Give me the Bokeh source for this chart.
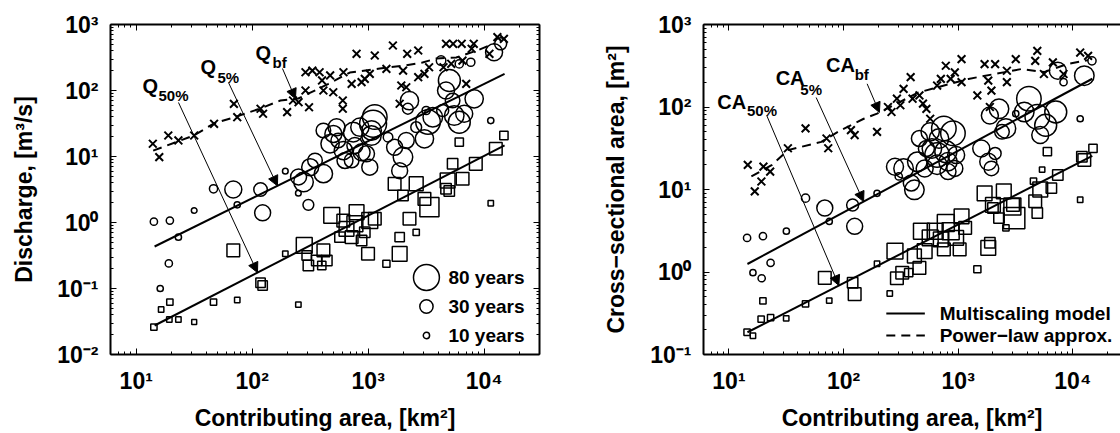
import numpy as np
from bokeh.plotting import figure
from bokeh.layouts import row
from bokeh.models import Range1d, LogAxis, FixedTicker, CustomJSTickFormatter, Arrow, NormalHead
from bokeh.core.properties import value
from bokeh.embed import file_html
from bokeh.resources import INLINE

FONT = "Liberation Sans"

# ---------------- LEFT PANEL: discharge ----------------
# Q5% (circles): contributing area [km2], discharge [m3/s], record length [years]
q5_area = [14.2, 19.5, 23.1, 31.6, 19.1, 16.1, 46.4, 68.7, 74.3, 118, 123, 193, 250, 305, 277, 316,
           251, 348, 411, 469, 411, 501, 552, 534, 611, 631, 743, 768, 720, 848, 877, 967, 1032,
           1102, 1067, 1140, 1483, 1690, 1995, 1868, 2128, 2270, 2198, 2594, 3055, 3162, 3280,
           3606, 4389, 5012, 4690, 5345, 5520, 6100, 6730, 8200, 7670, 11400, 12170, 13870,
           4250, 6100, 1070]
q5_val = [1.03, 1.07, 0.60, 1.52, 0.24, 0.10, 3.24, 3.16, 1.85, 3.16, 1.40, 6.0, 2.78, 1.85, 4.1, 6.9,
          4.9, 8.7, 5.5, 15.6, 24.8, 22, 17.5, 27.8, 12.3, 8.7, 23.4, 14.7, 8.7, 27.8, 11.6, 11, 6.9,
          31.3, 20.8, 39.6, 19.6, 13.8, 9.8, 6.1, 17.5, 70, 52.9, 27.8, 18.5, 49.8, 33.4,
          39.4, 49.8, 142, 100, 70.5, 41.8, 33.1, 44.4, 74.8, 268, 35, 380, 509,
          284, 253, 24.8]
q5_years = [10, 10, 8, 7, 10, 8, 12, 35, 8, 25, 32, 7, 7, 18, 43, 35,
            32, 28, 39, 39, 28, 35, 28, 35, 39, 32, 43, 32, 28, 39, 35, 32, 32,
            69, 43, 60, 15, 32, 43, 32, 32, 39, 18, 18, 39, 12, 60,
            43, 21, 51, 35, 28, 43, 51, 35, 39, 12, 8, 35, 21,
            15, 12, 43]

# Q50% (squares)
q50_area = [14.2, 19.5, 16.4, 19.3, 23.1, 31.6, 46.4, 74.3, 68.7, 118, 123, 193, 250, 281, 305, 295,
            360, 411, 440, 398, 485, 610, 571, 768, 794, 720, 877, 1032, 1140, 997, 935, 650,
            1868, 1868, 1436, 1690, 2594, 1995, 2270, 2594, 3055, 3373, 4840, 4690, 5000, 6515,
            11400, 5345, 6100, 8470, 12600, 14800]
q50_val = [0.026, 0.062, 0.048, 0.034, 0.034, 0.031, 0.062, 0.067, 0.377, 0.122, 0.111, 0.336, 0.057,
           0.45, 0.223, 0.316, 0.265, 0.377, 0.265, 0.223, 1.28, 1.07, 0.60, 0.955, 1.43, 0.60, 0.533,
           1.07, 1.14, 0.336, 0.71, 0.80, 0.60, 0.336, 0.237, 3.86, 3.86, 2.57, 1.14, 0.71, 2.28,
           1.71, 4.33, 3.24, 3.0, 4.6, 1.96, 7.75, 16.5, 7.75, 13.1, 20.8]
q50_years = [10, 10, 8, 8, 8, 7, 10, 8, 28, 18, 18, 8, 8, 39, 21, 18,
             21, 28, 21, 15, 39, 28, 21, 39, 35, 28, 21, 39, 28, 28, 21, 35,
             18, 35, 12, 28, 32, 21, 28, 10, 28, 51, 35, 21, 21, 28,
             8, 21, 15, 28, 28, 15]

# Q_bf (crosses)
qbf_area = [13.9, 15.8, 18.9, 23.1, 31.6, 46.9, 69.5, 74.3, 118, 124, 200, 251, 225, 288, 309, 288,
            330, 400, 470, 411, 500, 612, 794, 1140, 720, 877, 935, 1032, 1436, 2130, 1868, 1633,
            2170, 2700, 2700, 3055, 3350, 4690, 5400, 6400, 4460, 5200, 8130, 7800, 11100, 13000,
            14800, 6500, 7000, 604, 604, 381, 2000, 1930]
qbf_val = [15.6, 9.8, 20.8, 17.5, 20.8, 31.3, 62.8, 39.4, 52.9, 44.4, 47, 66.5, 70.5, 100, 55.8, 189,
           200, 142, 169, 100, 94, 189, 360, 339, 126, 134, 150, 179, 213, 112, 63, 481,
           360, 404, 159, 179, 225, 510, 510, 510, 225, 254, 510, 429, 360, 643,
           607, 284, 126, 70.5, 53, 189, 200, 119]

# models (solid: multiscaling, dashed: power-law approximation)
q_model_area = [14.4, 15000]
q5_model = [0.433, 179]
q50_model = [0.0275, 14.7]
qbf_pl_area = [14.0, 31.4, 46.6, 69, 118, 175, 250, 450, 695, 1259, 2060, 2940, 3870, 5740, 8690, 12160]
qbf_pl_val = [12.3, 20.8, 31.6, 39, 53.4, 70.5, 75.7, 125, 187, 215, 239, 266, 305, 316, 404, 515]

# ---------------- RIGHT PANEL: cross-sectional area ----------------
ca5_area = [14.4, 19.8, 31.7, 23.1, 16.2, 19.3, 68.6, 75, 125, 120, 46.6, 196, 303, 281, 334, 440,
            415, 390, 459, 528, 570, 680, 750, 900, 655, 780, 655, 815, 960, 935, 815, 590, 510,
            1590, 1830, 1950, 2100, 2410, 2610, 1890, 2270, 3180, 4140, 3770, 4900, 5800, 5200,
            7100, 7400, 8300, 11600, 12600, 14700]
ca5_val = [2.59, 2.72, 3.12, 1.29, 0.98, 0.84, 5.96, 4.1, 3.58, 6.5, 7.85, 9.0, 14.4, 18.9, 18, 21.7,
           9.9, 12, 41.5, 31.4, 50, 41.5, 55, 48, 26.2, 28.7, 20, 21.7, 26.2, 18, 16.5, 31.4, 18,
           31.4, 21.7, 18, 27.4, 50, 55, 79, 95, 83, 126, 87, 76, 60, 45.7,
           87, 275, 200, 72, 240, 363]
ca5_years = [10, 10, 8, 10, 8, 10, 32, 8, 32, 21, 12, 8, 10, 35, 43, 43,
             43, 32, 32, 32, 39, 43, 60, 60, 60, 51, 43, 39, 35, 32, 32, 43, 35,
             35, 35, 28, 21, 28, 43, 35, 43, 8, 60, 43, 60, 51, 35,
             51, 35, 10, 8, 43, 12]

ca50_area = [14.4, 16.2, 19.1, 23.1, 31.6, 19.8, 46.6, 75, 68.6, 120, 125, 196, 253, 281, 292, 325,
             370, 415, 459, 478, 510, 570, 630, 705, 750, 780, 860, 960, 1030, 1070, 1150, 1470,
             1830, 1890, 2010, 2270, 2610, 2970, 3080, 4900, 1700, 2500, 2010, 3010, 4540, 5400,
             6000, 5200, 4700, 6500, 7400, 11600, 12600, 15000, 12000]
ca50_val = [0.186, 0.169, 0.269, 0.28, 0.274, 0.447, 0.41, 0.45, 0.85, 0.74, 0.54, 1.26, 0.55, 1.79,
            0.84, 0.98, 0.98, 1.56, 1.12, 3.12, 1.79, 2.59, 3.12, 2.48, 1.88, 3.93, 3.12, 2.59, 1.88,
            4.73, 3.42, 1.08, 1.96, 2.26, 5.96, 4.5, 3.42, 6.24, 4.5, 5.2, 9.0, 9.5, 6.5, 6.5, 12.6,
            17.4, 28.7, 10, 7.2, 10.4, 15, 7.5, 22.8, 31.5, 25]
ca50_years = [10, 8, 10, 10, 8, 10, 10, 8, 28, 21, 28, 8, 8, 39, 28, 28,
              15, 32, 28, 39, 35, 39, 39, 35, 28, 43, 43, 35, 28, 35, 28, 12,
              35, 21, 21, 21, 10, 43, 60, 21, 35, 35, 35, 28, 10, 8,
              15, 35, 28, 21, 21, 8, 28, 15, 21]

cabf_area = [14.6, 16.8, 19.2, 20, 22.9, 32.7, 46.6, 71, 73.5, 116, 125, 196, 244, 262, 292, 334,
             385, 313, 400, 459, 493, 528, 570, 655, 706, 780, 860, 935, 1070, 1070, 1470, 1700,
             1830, 1950, 1890, 2100, 2660, 2660, 3180, 4700, 4900, 5600, 6700, 8300, 11600, 13600]
cabf_val = [19.9, 9.5, 12.5, 18.9, 16.5, 31.6, 55, 41.5, 31.6, 52.5, 45.7, 50, 100, 87, 126, 166,
            230, 105, 126, 138, 110, 95, 72, 182, 219, 316, 219, 263, 380, 200, 138, 331,
            209, 158, 100, 331, 275, 200, 380, 363, 479, 251, 347, 251, 457, 416]

ca_model_area = [14.5, 14800]
ca5_model = [1.25, 220]
ca50_model = [0.186, 25.5]
cabf_pl_area = [15.7, 23.8, 32.7, 64, 95, 150, 196, 450, 1230, 3580, 5600, 9040, 13600]
cabf_pl_val = [14.4, 19.9, 30, 37.8, 52.5, 72, 83, 150, 219, 289, 265, 333, 370]

legend_years = [80, 30, 10]
x_decades = [1, 2, 3, 4]
q_decades = [-2, -1, 0, 1, 2, 3]
ca_decades = [-1, 0, 1, 2, 3]

# ---------------- helpers ----------------
LOG_XMIN = np.log10(6.0)
DEC_X = 116.0
FRAME_TOP = 24


def msize(years):
    return 6.3 * (np.asarray(years, float) / 10.0) ** 0.68


class Panel:
    def __init__(self, frame_left, ydec_px, ytop_exp):
        self.fl = frame_left
        self.yd = ydec_px
        self.yt = ytop_exp

    def px(self, px, py):
        return (10 ** (LOG_XMIN + (px - self.fl) / DEC_X),
                10 ** (self.yt - (py - FRAME_TOP) / self.yd))


def on_line(a, xs, ys):
    return 10 ** np.interp(np.log10(a), np.log10(xs), np.log10(ys))


SUP = {"-": "\u207b", "0": "\u2070", "1": "\u00b9", "2": "\u00b2", "3": "\u00b3",
       "4": "\u2074", "5": "\u2075", "6": "\u2076", "7": "\u2077", "8": "\u2078", "9": "\u2079"}
blank = CustomJSTickFormatter(code='return "";')


def ticks(exps, lo, hi):
    major = [10.0 ** k for k in exps if lo <= 10.0 ** k <= hi]
    minor = [m * 10.0 ** k for k in range(min(exps) - 1, max(exps) + 1) for m in range(2, 10)
             if lo <= m * 10.0 ** k <= hi]
    labels = {10.0 ** k: "10" + "".join(SUP[c] for c in str(k)) for k in exps}
    return FixedTicker(ticks=major, minor_ticks=minor), labels


def style_axis(ax, labels):
    ax.axis_line_width = 2
    ax.axis_line_color = "black"
    ax.major_tick_in = 6
    ax.major_tick_out = 0
    ax.minor_tick_in = 3
    ax.minor_tick_out = 0
    ax.major_tick_line_width = 1
    ax.minor_tick_line_width = 1
    ax.major_tick_line_color = "black"
    ax.minor_tick_line_color = "black"
    ax.major_label_text_font = FONT
    ax.major_label_text_font_style = "bold"
    ax.major_label_text_color = "black"
    if labels:
        ax.major_label_overrides = labels
        ax.major_label_text_font_size = "23px"
        ax.axis_label_text_font = FONT
        ax.axis_label_text_font_style = "bold"
        ax.axis_label_text_font_size = "23px"
        ax.axis_label_text_color = "black"
    else:
        ax.formatter = blank
        ax.major_label_text_font_size = "1px"
        ax.major_label_standoff = 0


def make_panel(width, bl, br, yexps, xmax, ylabel, right_axis, ylab_standoff):
    ylo, yhi = 10.0 ** min(yexps), 10.0 ** max(yexps)
    p = figure(width=width, height=433, x_axis_type="log", y_axis_type="log",
               x_range=Range1d(6.0, xmax), y_range=Range1d(ylo, yhi),
               output_backend="svg", toolbar_location=None,
               min_border_left=bl, min_border_right=br, min_border_top=FRAME_TOP, min_border_bottom=79)
    p.outline_line_color = None
    p.xgrid.visible = False
    p.ygrid.visible = False
    xt, xl = ticks(x_decades, 6.0, xmax)
    yt, yl = ticks(yexps, ylo, yhi)
    for ax in p.xaxis:
        ax.ticker = xt
        style_axis(ax, xl)
        ax.axis_label = "Contributing area, [km\u00b2]"
        ax.major_label_standoff = 13
        ax.axis_label_standoff = 8
    for ax in p.yaxis:
        ax.ticker = yt
        style_axis(ax, yl)
        ax.axis_label = ylabel
        ax.major_label_standoff = 12
        ax.axis_label_standoff = ylab_standoff
    top = LogAxis(ticker=xt)
    style_axis(top, None)
    p.add_layout(top, "above")
    if right_axis:
        rgt = LogAxis(ticker=yt)
        style_axis(rgt, None)
        p.add_layout(rgt, "right")
    return p


def txt(p, xs, ys, texts, size):
    p.text(x=xs, y=ys, text=texts, text_font=value(FONT), text_font_style="bold",
           text_font_size=size, text_align="left", text_baseline="alphabetic", text_color="black")


def arrow(p, x0, y0, x1, y1):
    p.add_layout(Arrow(end=NormalHead(size=10, fill_color="black", line_color="black", line_width=1),
                       x_start=x0, y_start=y0, x_end=x1, y_end=y1, line_width=1, line_color="black"))


MK = dict(fill_color=None, line_color="black", line_width=1.5)

# ---------------- left figure ----------------
L = Panel(110, 66.0, 3)
p1 = make_panel(600, 110, 61, q_decades, 3e4, "Discharge, [m\u00b3/s]", True, 17)
p1.scatter(q5_area, q5_val, marker="circle", size=1.15 * msize(q5_years), **MK)
p1.scatter(q50_area, q50_val, marker="square", size=1.0 * msize(q50_years), **MK)
p1.scatter(qbf_area, qbf_val, marker="x", size=11, line_color="black", line_width=2)
p1.line(q_model_area, q5_model, line_color="black", line_width=2)
p1.line(q_model_area, q50_model, line_color="black", line_width=2)
p1.line(qbf_pl_area, qbf_pl_val, line_color="black", line_width=2, line_dash="9 6")

for (qx, qy, sx, sy, main, sub) in [(142, 85, 158, 95, "Q", "50%"), (200, 66, 217, 77, "Q", "5%"),
                                    (255, 52, 272, 62, "Q", "bf")]:
    mx, my = L.px(qx, qy)
    bx, by = L.px(sx, sy)
    txt(p1, [mx], [my], [main], "20px")
    txt(p1, [bx], [by], [sub], "15px")

a0 = L.px(178, 102)
t = L.px(257, 0)[0]
arrow(p1, a0[0], a0[1], t, on_line(t, q_model_area, q50_model))
a0 = L.px(228, 82)
t = L.px(277, 0)[0]
arrow(p1, a0[0], a0[1], t, on_line(t, q_model_area, q5_model))
a0 = L.px(282, 68)
t = L.px(295, 0)[0]
arrow(p1, a0[0], a0[1], t, on_line(t, qbf_pl_area, qbf_pl_val))

lx = [L.px(426, yy)[0] for yy in (277, 306, 335)]
ly = [L.px(426, yy)[1] for yy in (277, 306, 335)]
p1.scatter(lx, ly, marker="circle", size=msize(legend_years), **MK)
tx = [L.px(448, yy)[0] for yy in (277, 306, 335)]
p1.text(x=tx, y=ly, text=["%d years" % y for y in legend_years], text_font=value(FONT),
        text_font_style="bold", text_font_size="19px", text_align="left", text_baseline="middle",
        text_color="black")

# ---------------- right figure ----------------
R = Panel(698, 82.5, 3)
xmax_r = 10 ** (LOG_XMIN + 422 / DEC_X)
p2 = make_panel(520, 98, 0, ca_decades, xmax_r, "Cross\u2212sectional area, [m\u00b2]", False, 18)
p2.scatter(ca5_area, ca5_val, marker="circle", size=1.15 * msize(ca5_years), **MK)
p2.scatter(ca50_area, ca50_val, marker="square", size=1.0 * msize(ca50_years), **MK)
p2.scatter(cabf_area, cabf_val, marker="x", size=11, line_color="black", line_width=2)
p2.line(ca_model_area, ca5_model, line_color="black", line_width=2)
p2.line(ca_model_area, ca50_model, line_color="black", line_width=2)
p2.line(cabf_pl_area, cabf_pl_val, line_color="black", line_width=2, line_dash="9 6")

for (qx, qy, sx, sy, main, sub) in [(712, 101, 742, 110, "CA", "50%"), (771, 77, 796, 89, "CA", "5%"),
                                    (822, 64, 851, 74, "CA", "bf")]:
    mx, my = R.px(qx, qy)
    bx, by = R.px(sx, sy)
    txt(p2, [mx], [my], [main], "20px")
    txt(p2, [bx], [by], [sub], "15px")

a0 = R.px(762, 115)
t = R.px(835, 0)[0]
arrow(p2, a0[0], a0[1], t, on_line(t, ca_model_area, ca50_model))
a0 = R.px(812, 97)
t = R.px(860, 0)[0]
arrow(p2, a0[0], a0[1], t, on_line(t, ca_model_area, ca5_model))
a0 = R.px(863.6, 83.3)
t = R.px(876, 0)[0]
arrow(p2, a0[0], a0[1], t, on_line(t, cabf_pl_area, cabf_pl_val))

(lx0, ly0), (lx1, _) = R.px(883, 313), R.px(922, 313)
ly1 = R.px(883, 335)[1]
p2.line([lx0, lx1], [ly0, ly0], line_color="black", line_width=2)
p2.line([lx0, lx1], [ly1, ly1], line_color="black", line_width=2, line_dash="9 6")
tx2 = R.px(937, 0)[0]
p2.text(x=[tx2, tx2], y=[ly0, ly1], text=["Multiscaling model", "Power\u2212law approx."],
        text_font=value(FONT), text_font_style="bold", text_font_size="19px", text_align="left",
        text_baseline="middle", text_color="black")

layout = row(p1, p2)
open("out.html", "w").write(file_html(layout, INLINE))
